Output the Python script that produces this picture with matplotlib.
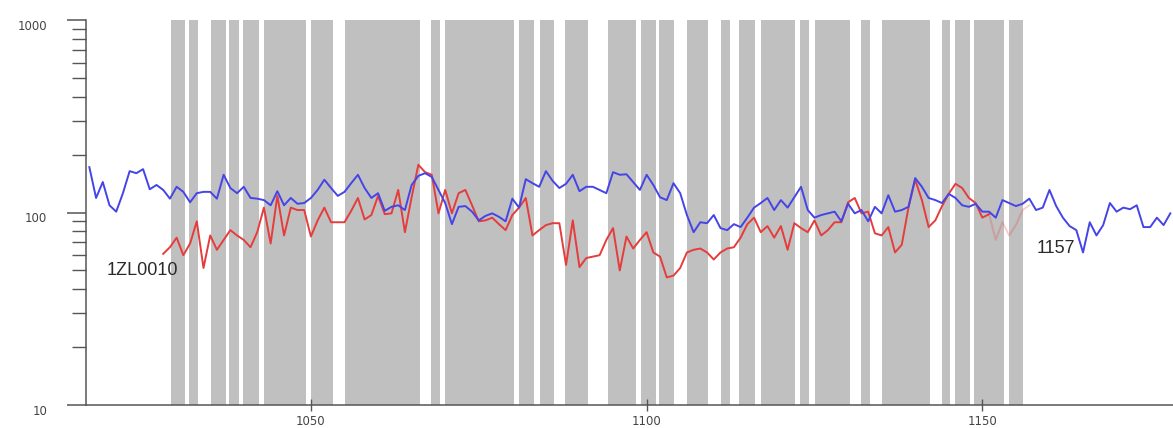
import matplotlib
matplotlib.use("Agg")
import matplotlib.pyplot as plt
from matplotlib.ticker import LogLocator, NullFormatter, FixedLocator

# ---------------- data ----------------
blue_x = list(range(1017, 1179))
blue_y = [172, 119, 144, 109, 101, 126, 164, 160, 168, 132,
          139, 131, 118, 136, 128, 113, 126, 128, 128, 118,
          157, 134, 126, 136, 119, 118, 116, 109, 129, 109,
          119, 111, 112, 119, 131, 148, 134, 122, 128, 142,
          157, 134, 119, 126, 102, 107, 109, 103, 139, 155,
          160, 153, 131, 112, 87, 107, 108, 101, 91, 96,
          99, 95, 90, 118, 106, 149, 142, 136, 164, 146,
          134, 141, 157, 129, 136, 136, 131, 126, 162, 157,
          158, 144, 131, 157, 139, 120, 116, 142, 126, 97,
          79, 89, 88, 97, 83, 81, 87, 84, 94, 106,
          112, 119, 103, 116, 106, 120, 136, 103, 94, 97,
          99, 101, 90, 111, 99, 103, 90, 107, 99, 123,
          101, 103, 107, 151, 136, 119, 116, 112, 125, 119,
          109, 107, 111, 101, 101, 94, 116, 112, 108, 111,
          118, 103, 106, 131, 108, 94, 85, 81, 62, 89,
          76, 86, 112, 101, 106, 104, 109, 84, 84, 94,
          86, 99]

red_x = list(range(1028, 1152))
red_y = [61, 66, 74, 60, 69, 90, 51.5, 76, 64, 72,
         81, 76, 72, 66, 79, 106, 69, 122, 76, 106,
         103, 103, 75, 91, 106, 89, 89, 89, 102, 119,
         92, 97, 122, 98, 99, 131, 79, 120, 177, 162,
         157, 99, 131, 99, 126, 131, 109, 90, 91, 94,
         87, 81, 97, 106, 119, 76, 81, 86, 88, 88,
         53.4, 91, 52, 58, 59, 60, 72, 83, 50, 75,
         65, 72, 79, 62, 59, 46, 47, 51.5, 62, 64,
         65, 62, 57, 62, 65, 66, 74, 87, 94, 79,
         85, 74, 85, 64, 88, 83, 79, 91, 76, 81,
         89, 89, 113, 119, 99, 101, 78, 76, 84, 62,
         68, 106, 148, 116, 84, 91, 108, 125, 141, 134,
         119, 112, 94, 98]

red_tail_x = [1151, 1152, 1153, 1154, 1155, 1156, 1157]
red_tail_y = [98, 72, 89, 76, 86, 103, 109]

band_start = [1029.1, 1031.8, 1035.1, 1037.8, 1039.9, 1043.0, 1050.0,
              1055.1, 1067.9, 1070.0, 1081.0, 1084.1, 1087.8, 1094.2,
              1099.2, 1101.8, 1106.0, 1111.1, 1113.8, 1117.0, 1122.8,
              1125.1, 1131.9, 1135.1, 1144.0, 1145.9, 1148.8, 1154.0]
band_end = [1031.2, 1033.2, 1037.3, 1039.3, 1042.3, 1049.3, 1053.3,
            1066.2, 1069.2, 1080.2, 1083.2, 1086.2, 1091.3, 1098.4,
            1101.4, 1104.1, 1109.2, 1112.4, 1116.1, 1122.1, 1124.2,
            1130.3, 1133.3, 1142.2, 1145.2, 1148.2, 1153.3, 1156.1]

x_ticks = [1050, 1100, 1150]
y_ticks = [10, 100, 1000]
labels = [("1ZL0010", 1019.6, 50.2), ("1157", 1163.8, 65.4)]

# ---------------- figure ----------------
W, H = 1173, 428
fig = plt.figure(figsize=(W / 100, H / 100), dpi=100)
ax = fig.add_axes([86 / W, 23 / H, 1087 / W, 385 / H])

for s, e in zip(band_start, band_end):
    ax.axvspan(s, e, color="#c0c0c0", lw=0, zorder=1)

ax.plot(red_x, red_y, color="#e63c3c", lw=1.4, zorder=3)
ax.plot(red_tail_x, red_tail_y, color="#e63c3c", lw=1.4, alpha=0.25, zorder=3)
ax.plot(blue_x, blue_y, color="#4444e8", lw=1.4, zorder=4)

ax.set_yscale("log")
ax.set_ylim(10, 1000)
ax.set_xlim(1016.5, 1178.4)

ax.yaxis.set_major_locator(FixedLocator(y_ticks))
ax.set_yticklabels([str(v) for v in y_ticks])
ax.yaxis.set_minor_locator(LogLocator(base=10, subs=range(2, 10)))
ax.yaxis.set_minor_formatter(NullFormatter())
ax.set_xticks(x_ticks)
ax.set_xticklabels([str(v) for v in x_ticks])

for side in ("top", "right"):
    ax.spines[side].set_visible(False)
for side in ("left", "bottom"):
    ax.spines[side].set_color("#555555")
    ax.spines[side].set_linewidth(1.1)

ax.tick_params(axis="y", which="major", direction="out", length=14, width=1.1,
               color="#555555", pad=14, labelsize=8.5, labelcolor="#444444")
ax.tick_params(axis="y", which="minor", direction="out", length=10, width=1.0,
               color="#555555")
ax.tick_params(axis="x", which="major", direction="inout", length=9, width=1.0,
               color="#555555", pad=3, labelsize=8.5, labelcolor="#444444")
for lab in ax.get_yticklabels():
    lab.set_fontfamily("DejaVu Sans")
    lab.set_va("top")
for lab in ax.get_xticklabels():
    lab.set_fontfamily("DejaVu Sans")

txt, tx, ty = labels[0]
ax.text(tx, ty, txt, ha="left", va="center", fontsize=13,
        family="Liberation Sans", color="#2a2a2a", zorder=5)
txt, tx, ty = labels[1]
ax.text(tx, ty, txt, ha="right", va="center", fontsize=13,
        family="Liberation Sans", color="#2a2a2a", zorder=5)

ax.set_facecolor("white")
fig.savefig("out.png", dpi=100, facecolor="white")
